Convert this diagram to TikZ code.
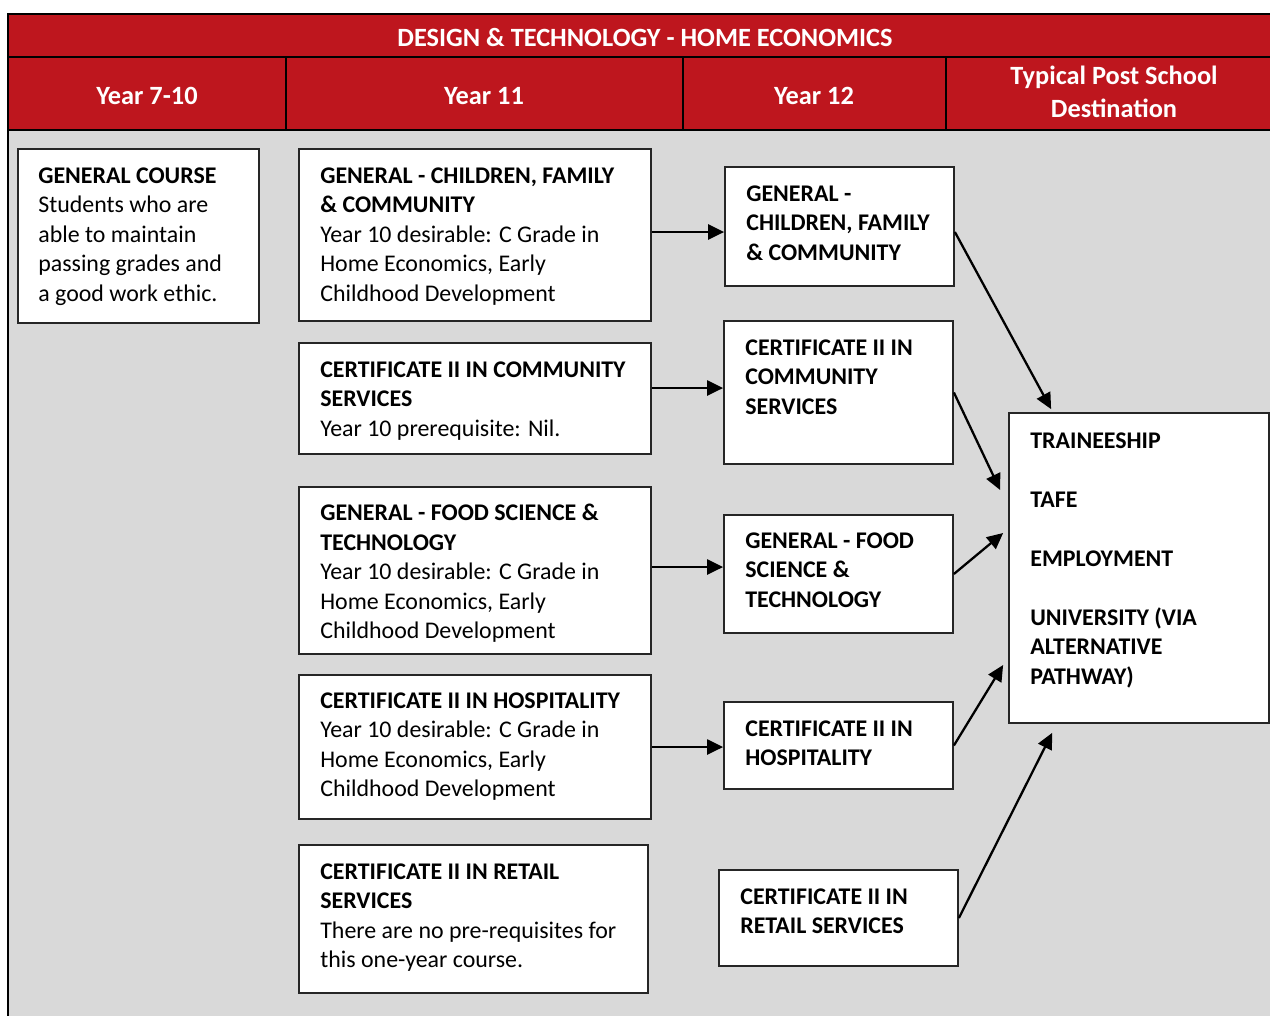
\documentclass[tikz,border=0pt]{standalone}
\usepackage{fontspec}
\setmainfont{Carlito}
\usetikzlibrary{arrows.meta,fit,calc}
\definecolor{hered}{RGB}{190,22,30}
\definecolor{bodygray}{RGB}{217,217,217}
\tikzset{
  frame/.style={line width=1.3pt,black},
  box/.style={draw=black!85,line width=1pt,fill=white,inner sep=0pt},
  txt/.style={anchor=north west,align=left,inner sep=0pt,
    font=\fontsize{13.6pt}{16.8pt}\selectfont},
  hd/.style={text=white,align=center,inner sep=0pt,
    font=\bfseries\fontsize{15pt}{18.6pt}\selectfont},
  arr/.style={-{Triangle[length=0.32cm,width=0.3cm]},line width=1.3pt}
}
\begin{document}
\begin{tikzpicture}[x=0.02cm,y=-0.02cm]
\useasboundingbox (0,0) rectangle (1270,1015);
%Nen
\fill[hered] (8,14) rectangle (1275,130);
\fill[bodygray] (8,130) rectangle (1275,1020);
\draw[frame] (1275,14) -- (8,14) -- (8,1020);
\draw[frame] (8,57) -- (1275,57);
\draw[frame] (8,130) -- (1275,130);
\foreach \xc in {286,683,946}
  \draw[frame] (\xc,57) -- (\xc,130);
%Tieu de
\node[hd] (title) at (645,37) {DESIGN \& TECHNOLOGY - HOME ECONOMICS};
\node[hd] (hy710) at (147,96) {Year 7-10};
\node[hd] (hy11) at (484,96) {Year 11};
\node[hd] (hy12) at (814,96) {Year 12};
\node[hd] (hdest) at (1114,92) {Typical Post School\\Destination};
%Cot 1
\node[box,fit={(18,149) (259,323)}] (gen) {};
\node[txt] (gent) at (38,167) {\textbf{GENERAL COURSE}\\Students who are\\able to maintain\\passing grades and\\a good work ethic.};
%Cot 2
\node[box,fit={(299,149) (651,321)}] (y11a) {};
\node[txt] (y11at) at (320,167) {\textbf{GENERAL - CHILDREN, FAMILY}\\\textbf{\& COMMUNITY}\\Year 10 desirable: C Grade in\\Home Economics, Early\\Childhood Development};
\node[box,fit={(299,343) (651,454)}] (y11b) {};
\node[txt] (y11bt) at (320,361) {\textbf{CERTIFICATE II IN COMMUNITY}\\\textbf{SERVICES}\\Year 10 prerequisite: Nil.};
\node[box,fit={(299,487) (651,654)}] (y11c) {};
\node[txt] (y11ct) at (320,504) {\textbf{GENERAL - FOOD SCIENCE \&}\\\textbf{TECHNOLOGY}\\Year 10 desirable: C Grade in\\Home Economics, Early\\Childhood Development};
\node[box,fit={(299,675) (651,819)}] (y11d) {};
\node[txt] (y11dt) at (320,692) {\textbf{CERTIFICATE II IN HOSPITALITY}\\Year 10 desirable: C Grade in\\Home Economics, Early\\Childhood Development};
\node[box,fit={(299,845) (648,993)}] (y11e) {};
\node[txt] (y11et) at (320,863) {\textbf{CERTIFICATE II IN RETAIL}\\\textbf{SERVICES}\\There are no pre-requisites for\\this one-year course.};
%Cot 3
\node[box,fit={(725,167) (954,286)}] (y12a) {};
\node[txt,font=\bfseries\fontsize{13.6pt}{16.8pt}\selectfont] (y12at) at (746,185) {GENERAL -\\CHILDREN, FAMILY\\\& COMMUNITY};
\node[box,fit={(724,321) (953,464)}] (y12b) {};
\node[txt,font=\bfseries\fontsize{13.6pt}{16.8pt}\selectfont] (y12bt) at (745,339) {CERTIFICATE II IN\\COMMUNITY\\SERVICES};
\node[box,fit={(724,515) (953,633)}] (y12c) {};
\node[txt,font=\bfseries\fontsize{13.6pt}{16.8pt}\selectfont] (y12ct) at (745,532) {GENERAL - FOOD\\SCIENCE \&\\TECHNOLOGY};
\node[box,fit={(724,702) (953,789)}] (y12d) {};
\node[txt,font=\bfseries\fontsize{13.6pt}{16.8pt}\selectfont] (y12dt) at (745,720) {CERTIFICATE II IN\\HOSPITALITY};
\node[box,fit={(719,870) (958,966)}] (y12e) {};
\node[txt,font=\bfseries\fontsize{13.6pt}{16.8pt}\selectfont] (y12et) at (740,888) {CERTIFICATE II IN\\RETAIL SERVICES};
%Dich den
\node[box,fit={(1009,413) (1269,723)}] (dest) {};
\node[txt,font=\bfseries\fontsize{13.6pt}{16.8pt}\selectfont] (destt) at (1030,432) {TRAINEESHIP\\[16.8pt]TAFE\\[16.8pt]EMPLOYMENT\\[16.8pt]UNIVERSITY (VIA\\ALTERNATIVE\\PATHWAY)};
%Mui ten ngang
\draw[arr] (y11a.east |- 0,232) -- (y12a.west |- 0,232);
\draw[arr] (y11b.east |- 0,388) -- (y12b.west |- 0,388);
\draw[arr] (y11c.east |- 0,567) -- (y12c.west |- 0,567);
\draw[arr] (y11d.east) -- (y12d.west |- y11d.east);
%Mui ten xien
\draw[arr] (y12a.east |- 0,232) -- ($(dest.north west)+(43,-3)$);
\draw[arr] (y12b.east) -- ($(dest.west)+(-8,-78)$);
\draw[arr] (y12c.east) -- ($(dest.west)+(-5,-35)$);
\draw[arr] (y12d.east) -- ($(dest.west)+(-5,97)$);
\draw[arr] (y12e.east) -- ($(dest.south west)+(44,9)$);
\end{tikzpicture}
\end{document}
